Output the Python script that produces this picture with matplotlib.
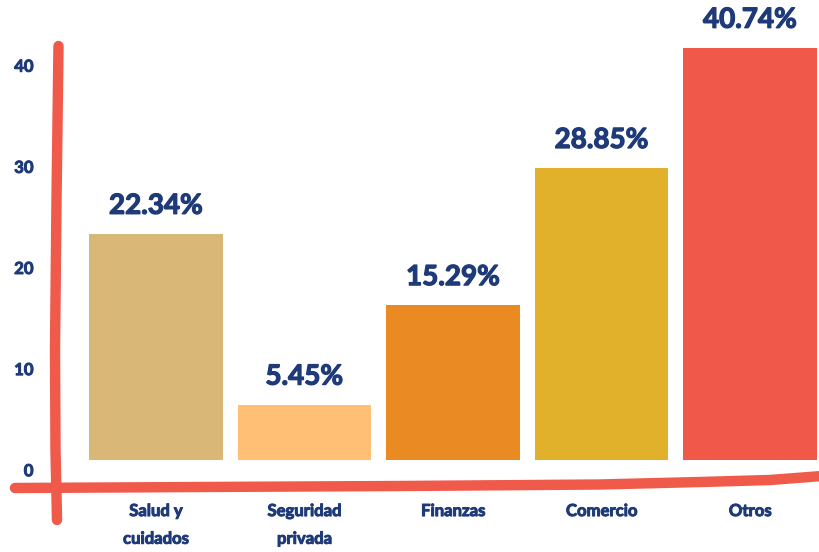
import numpy as np
from matplotlib import pyplot as plt
from matplotlib.lines import Line2D
from matplotlib.transforms import ScaledTranslation
import matplotlib.patheffects as pe

categories = ['Salud y\ncuidados', 'Seguridad\nprivada', 'Finanzas', 'Comercio', 'Otros']
values = [22.34, 5.45, 15.29, 28.85, 40.74]
colors = ['#D9B777', '#FFBF75', '#E98B22', '#E1B12C', '#F0594A']
y_ticks = [0, 10, 20, 30, 40]

navy = '#1E3A78'
red = '#F05A4A'
W, H = 820, 552

plt.rcParams['font.family'] = ['Lato', 'DejaVu Sans']
# thicken the glyphs a bit
heavy = [pe.withStroke(linewidth=0.9, foreground=navy)]

fig = plt.figure(figsize=(W / 100, H / 100), dpi=100)
ax = fig.add_axes([89 / W, (H - 460) / H, 728 / W, 452 / H])

x = np.arange(len(categories))
bars = ax.bar(x, values, width=0.9, color=colors)
ax.set_xlim(-0.45, 4.45)
ax.set_ylim(0, 44.7)

for b, v in zip(bars, values):
    ax.annotate(f'{v:.2f}%', (b.get_x() + b.get_width() / 2, v),
                xytext=(0, 11), textcoords='offset points',
                ha='center', va='bottom', fontsize=20, fontweight='bold', color=navy,
                path_effects=heavy)

ax.set_xticks(x)
ax.set_xticklabels(categories, fontsize=12, fontweight='bold', color=navy, linespacing=1.9)
ax.set_yticks(y_ticks)
ax.set_yticklabels([str(t) for t in y_ticks], fontsize=12, fontweight='bold', color=navy)
ax.tick_params(axis='x', length=0, pad=31)
ax.tick_params(axis='y', length=0, pad=40)
for lab in ax.get_xticklabels() + ax.get_yticklabels():
    lab.set_path_effects([pe.withStroke(linewidth=0.7, foreground=navy)])
# nudge y labels a little below their gridline
shift = ScaledTranslation(0, -7 / 72, fig.dpi_scale_trans)
for lab in ax.get_yticklabels():
    lab.set_transform(lab.get_transform() + shift)

for s in ax.spines.values():
    s.set_visible(False)

# hand-drawn style axis strokes
def stroke(px, py):
    px = np.asarray(px, dtype=float)
    py = np.asarray(py, dtype=float)
    fig.add_artist(Line2D(px / W, 1 - py / H, transform=fig.transFigure,
                          color=red, lw=7.5, solid_capstyle='round', zorder=5))

stroke([58.5, 56.5, 55, 55.5, 57], [46, 200, 350, 450, 520])
stroke([15, 200, 400, 600, 700, 770, 822], [488, 487, 486, 484.5, 482, 480, 476])

fig.savefig('out.png', dpi=100)
